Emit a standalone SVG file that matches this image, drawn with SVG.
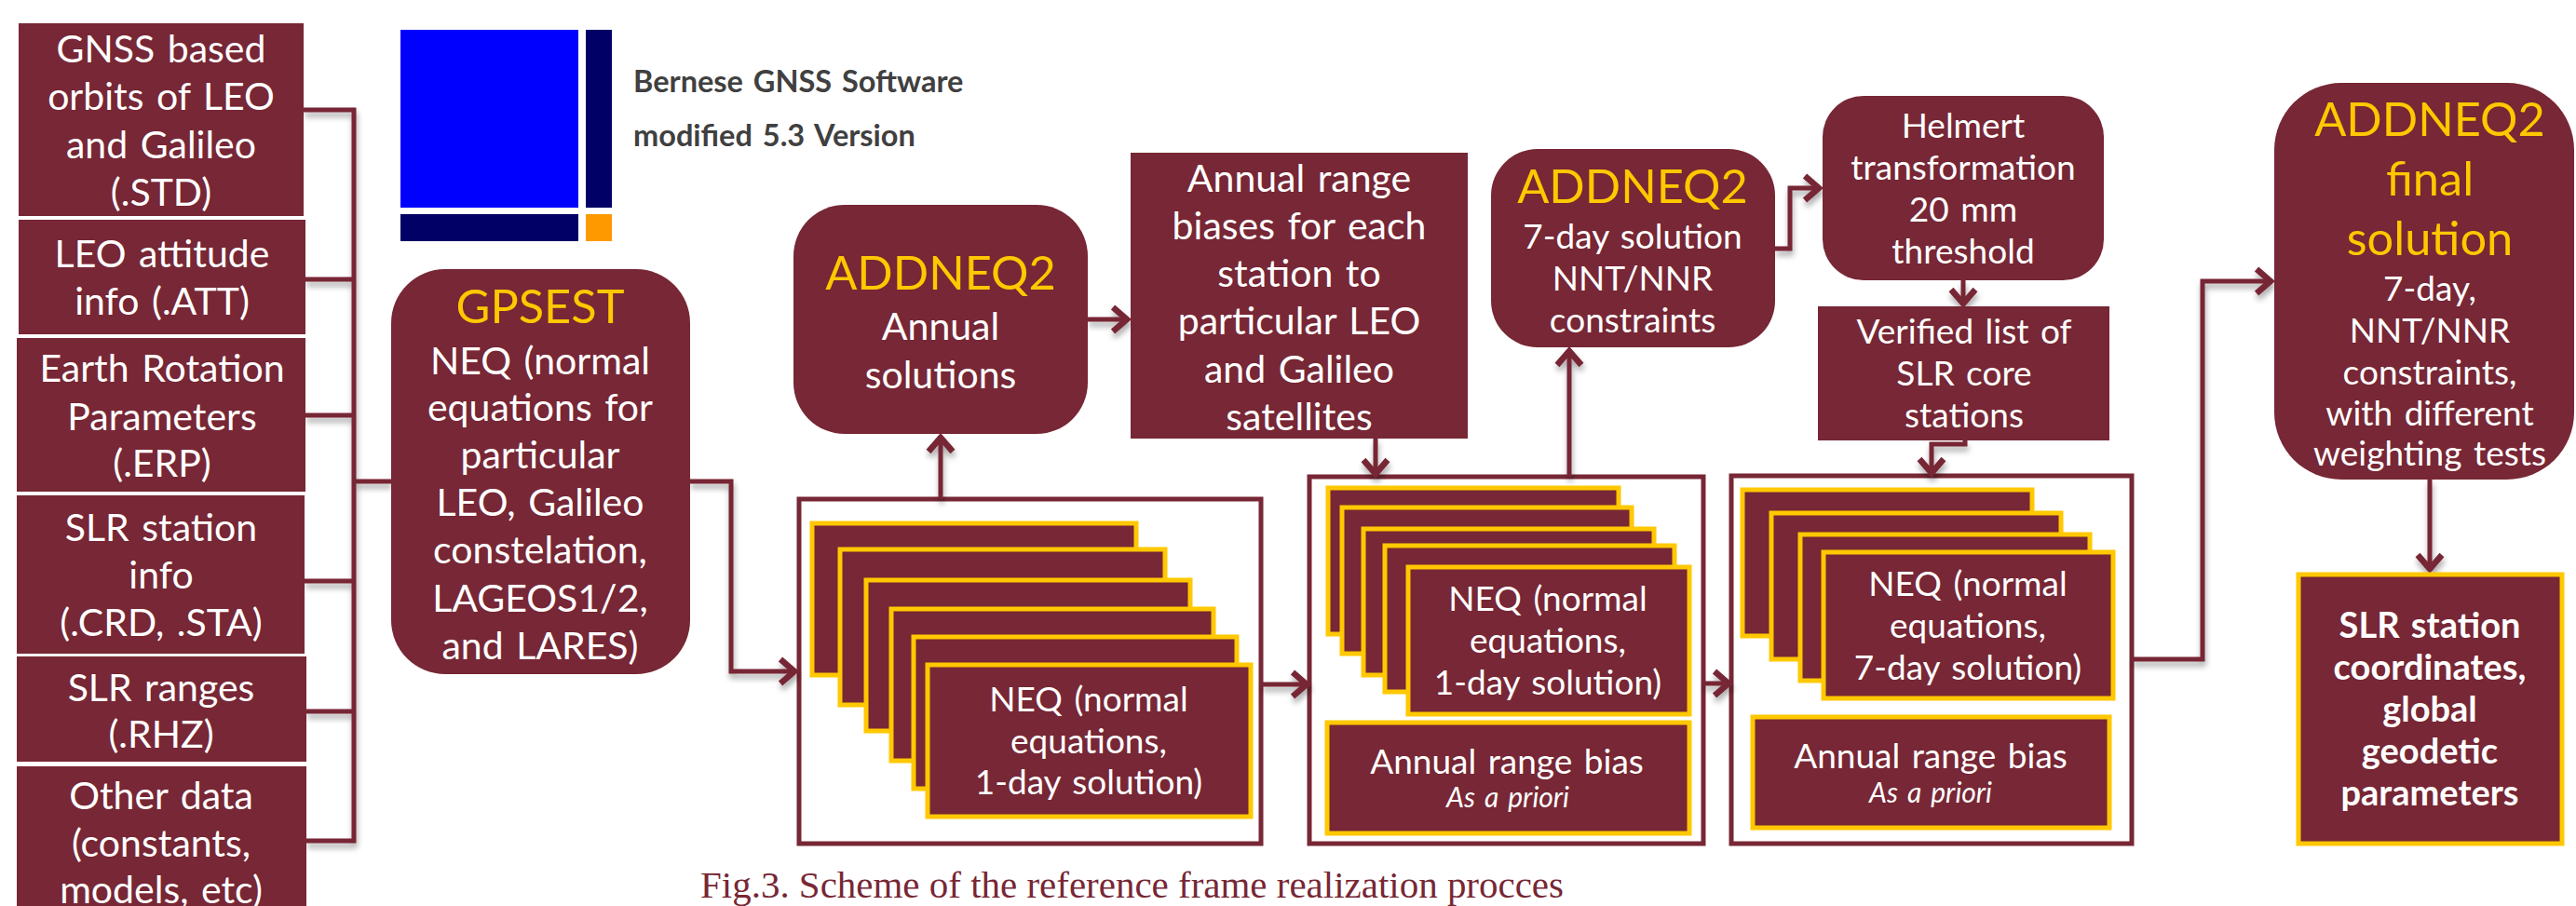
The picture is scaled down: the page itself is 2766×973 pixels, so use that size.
<svg xmlns="http://www.w3.org/2000/svg" width="2766" height="973" viewBox="0 0 2766 973">
<defs>
<filter id="sh" x="-20%" y="-20%" width="140%" height="140%"><feDropShadow dx="1" dy="5" stdDeviation="3" flood-color="#000" flood-opacity="0.35"/></filter>
<marker id="arr" markerUnits="userSpaceOnUse" markerWidth="30" markerHeight="34" viewBox="0 0 30 34" refX="26" refY="17" orient="auto"><path d="M9 4 L24 17 L9 30" fill="none" stroke="#772735" stroke-width="6.5"/></marker>
</defs>
<style>
text{font-family:Lato,"Open Sans","Liberation Sans",sans-serif;text-anchor:middle;fill:#fff;word-spacing:3px}
.m{fill:#772735}
.c{fill:#772735;stroke:#ffc800;stroke-width:5}
.f{fill:#fff;stroke:#772735;stroke-width:5}
.t{font-size:41px}
.s{font-size:37px}
.y{font-size:50.5px;fill:#ffc800}
.b{font-size:38px;font-weight:700}
.i{font-size:30px;font-style:italic}
.l{font-size:32.5px;font-weight:700;fill:#404040;text-anchor:start}
.cap{font-family:"Liberation Serif",serif;font-size:40px;fill:#772735;text-anchor:start;word-spacing:0}
#connectors path{fill:none;stroke:#772735;stroke-width:5;stroke-linejoin:miter}
</style>
<rect width="2766" height="973" fill="#fff"/>
<g id="frames">
<rect class="f" x="858" y="536" width="496" height="370"/>
<rect class="f" x="1406" y="512" width="423" height="394"/>
<rect class="f" x="1859" y="511" width="430" height="395"/>
</g>
<g id="connectors" filter="url(#sh)">
<path d="M326 118H380V903H329"/>
<path d="M328 300H380M328 446H380M327 624H380M329 764H380M380 517H420"/>
<path d="M741 517H785V721H855" marker-end="url(#arr)"/>
<path d="M1010 536V468" marker-end="url(#arr)"/>
<path d="M1168 343H1212" marker-end="url(#arr)"/>
<path d="M1477 471V511" marker-end="url(#arr)"/>
<path d="M1354 735H1405" marker-end="url(#arr)"/>
<path d="M1685 512V375" marker-end="url(#arr)"/>
<path d="M1906 267H1922V202H1955" marker-end="url(#arr)"/>
<path d="M2108 301V328" marker-end="url(#arr)"/>
<path d="M2110 473V477H2074V510" marker-end="url(#arr)"/>
<path d="M1829 734H1858" marker-end="url(#arr)"/>
<path d="M2289 708H2365V302H2440" marker-end="url(#arr)"/>
<path d="M2609 515V613" marker-end="url(#arr)"/>
</g>
<g id="logo">
<rect x="430" y="32" width="191" height="191" fill="#0000ff"/>
<rect x="629" y="32" width="28" height="191" fill="#000066"/>
<rect x="430" y="230" width="191" height="29" fill="#000066"/>
<rect x="629" y="230" width="28" height="29" fill="#ff9900"/>
<text class="l" x="680" y="99">Bernese GNSS Software</text>
<text class="l" x="680" y="157">modified 5.3 Version</text>
</g>
<g id="in1"><rect class="m" x="20" y="25" width="306" height="207"/><text class="t"><tspan x="173" y="67">GNSS based</tspan><tspan x="173" y="118">orbits of LEO</tspan><tspan x="173" y="170">and Galileo</tspan><tspan x="173" y="221">(.STD)</tspan></text></g>
<g id="in2"><rect class="m" x="20" y="236" width="308" height="123"/><text class="t"><tspan x="174" y="287">LEO attitude</tspan><tspan x="174" y="338">info (.ATT)</tspan></text></g>
<g id="in3"><rect class="m" x="18" y="363" width="310" height="165"/><text class="t"><tspan x="174" y="410">Earth Rotation</tspan><tspan x="174" y="462">Parameters</tspan><tspan x="174" y="512">(.ERP)</tspan></text></g>
<g id="in4"><rect class="m" x="18" y="532" width="309" height="170"/><text class="t"><tspan x="173" y="581">SLR station</tspan><tspan x="173" y="632">info</tspan><tspan x="173" y="683">(.CRD, .STA)</tspan></text></g>
<g id="in5"><rect class="m" x="18" y="705" width="311" height="113"/><text class="t"><tspan x="173" y="753">SLR ranges</tspan><tspan x="173" y="803">(.RHZ)</tspan></text></g>
<g id="in6"><rect class="m" x="18" y="823" width="311" height="150"/><text class="t"><tspan x="173" y="869">Other data</tspan><tspan x="173" y="920">(constants,</tspan><tspan x="173" y="970">models, etc)</tspan></text></g>
<g id="gpsest"><rect class="m" x="420" y="289" width="321" height="435" rx="58"/><text class="y" x="580" y="347">GPSEST</text><text class="t"><tspan x="580" y="402">NEQ (normal</tspan><tspan x="580" y="452">equations for</tspan><tspan x="580" y="503">particular</tspan><tspan x="580" y="554">LEO, Galileo</tspan><tspan x="580" y="605">constelation,</tspan><tspan x="580" y="657">LAGEOS1/2,</tspan><tspan x="580" y="708">and LARES)</tspan></text></g>
<g id="addneq-annual"><rect class="m" x="852" y="220" width="316" height="246" rx="55"/><text class="y" x="1010" y="311">ADDNEQ2</text><text class="t"><tspan x="1010" y="365">Annual</tspan><tspan x="1010" y="417">solutions</tspan></text></g>
<g id="biases"><rect class="m" x="1214" y="164" width="362" height="307"/><text class="t"><tspan x="1395" y="206">Annual range</tspan><tspan x="1395" y="257">biases for each</tspan><tspan x="1395" y="308">station to</tspan><tspan x="1395" y="359">particular LEO</tspan><tspan x="1395" y="411">and Galileo</tspan><tspan x="1395" y="462">satellites</tspan></text></g>
<g id="addneq-7day"><rect class="m" x="1601" y="160" width="305" height="213" rx="50"/><text class="y" x="1753" y="218">ADDNEQ2</text><text class="s"><tspan x="1753" y="267">7-day solution</tspan><tspan x="1753" y="312">NNT/NNR</tspan><tspan x="1753" y="357">constraints</tspan></text></g>
<g id="helmert"><rect class="m" x="1957" y="103" width="302" height="198" rx="44"/><text class="s"><tspan x="2108" y="148">Helmert</tspan><tspan x="2108" y="193">transformation</tspan><tspan x="2108" y="238">20 mm</tspan><tspan x="2108" y="283">threshold</tspan></text></g>
<g id="verified"><rect class="m" x="1952" y="329" width="313" height="144"/><text class="s"><tspan x="2109" y="369">Verified list of</tspan><tspan x="2109" y="414">SLR core</tspan><tspan x="2109" y="459">stations</tspan></text></g>
<g id="addneq-final"><rect class="m" x="2442" y="89" width="322" height="426" rx="72"/><text class="y"><tspan x="2609" y="146">ADDNEQ2</tspan><tspan x="2609" y="210">final</tspan><tspan x="2609" y="274">solution</tspan></text><text class="s"><tspan x="2609" y="323">7-day,</tspan><tspan x="2609" y="368">NNT/NNR</tspan><tspan x="2609" y="413">constraints,</tspan><tspan x="2609" y="457">with different</tspan><tspan x="2609" y="500">weighting tests</tspan></text></g>
<g id="stack-a">
<rect class="c" x="872" y="562" width="348" height="163"/>
<rect class="c" x="902" y="590" width="349" height="167"/>
<rect class="c" x="930" y="623" width="348" height="162"/>
<rect class="c" x="957" y="654" width="346" height="163"/>
<rect class="c" x="981" y="684" width="347" height="163"/>
<rect class="c" x="996" y="714" width="347" height="163"/>
<text class="s"><tspan x="1169" y="764">NEQ (normal</tspan><tspan x="1169" y="809">equations,</tspan><tspan x="1169" y="853">1-day solution)</tspan></text>
</g>
<g id="stack-b">
<rect class="c" x="1426" y="524" width="312" height="157"/>
<rect class="c" x="1441" y="545" width="311" height="157"/>
<rect class="c" x="1464" y="568" width="312" height="157"/>
<rect class="c" x="1487" y="586" width="311" height="157"/>
<rect class="c" x="1512" y="609" width="302" height="158"/>
<text class="s"><tspan x="1662" y="656">NEQ (normal</tspan><tspan x="1662" y="701">equations,</tspan><tspan x="1662" y="746">1-day solution)</tspan></text>
</g>
<g id="bias-b"><rect class="c" x="1425" y="776" width="389" height="119"/><text class="s" x="1618" y="831">Annual range bias</text><text class="i" x="1619" y="867">As a priori</text></g>
<g id="stack-c">
<rect class="c" x="1871" y="526" width="311" height="157"/>
<rect class="c" x="1902" y="551" width="311" height="157"/>
<rect class="c" x="1933" y="574" width="311" height="157"/>
<rect class="c" x="1958" y="593" width="311" height="157"/>
<text class="s"><tspan x="2113" y="640">NEQ (normal</tspan><tspan x="2113" y="685">equations,</tspan><tspan x="2113" y="730">7-day solution)</tspan></text>
</g>
<g id="bias-c"><rect class="c" x="1882" y="770" width="383" height="119"/><text class="s" x="2073" y="825">Annual range bias</text><text class="i" x="2073" y="862">As a priori</text></g>
<g id="result"><rect class="c" x="2468" y="617" width="283" height="289"/><text class="b"><tspan x="2609" y="685">SLR station</tspan><tspan x="2609" y="730">coordinates,</tspan><tspan x="2609" y="775">global</tspan><tspan x="2609" y="820">geodetic</tspan><tspan x="2609" y="865">parameters</tspan></text></g>
<text id="caption" class="cap" x="752" y="964" textLength="927" lengthAdjust="spacingAndGlyphs">Fig.3. Scheme of the reference frame realization procces</text>
</svg>
